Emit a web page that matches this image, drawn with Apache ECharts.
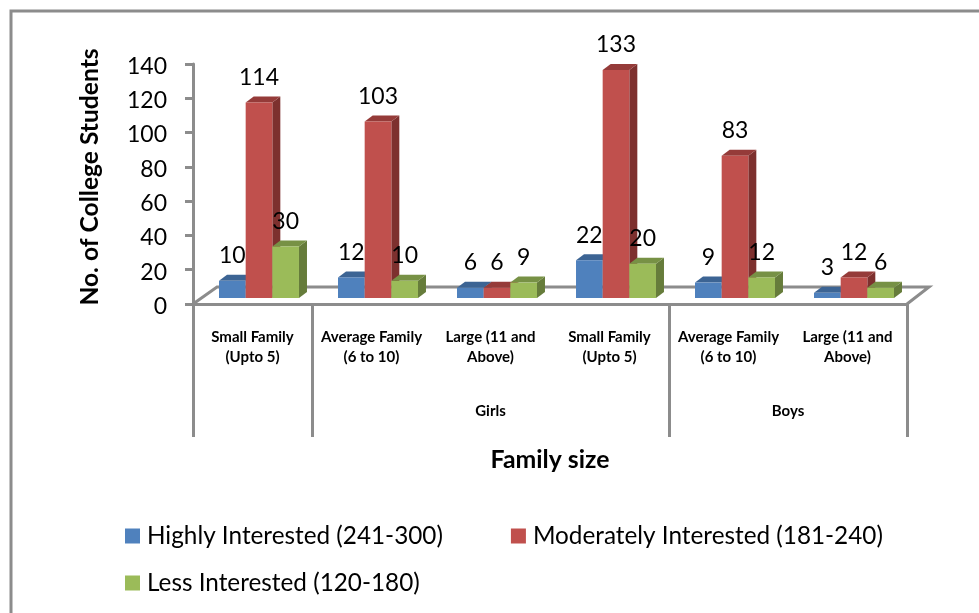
<!DOCTYPE html>
<html><head><meta charset="utf-8">
<style>html,body{margin:0;padding:0;background:#fff}#c{width:979px;height:613px}</style>
<script src="https://cdn.jsdelivr.net/npm/echarts@6/dist/echarts.min.js"></script>
</head><body><div id="c"></div>
<script>
const categories = ['Small Family\n(Upto 5)','Average Family\n(6 to 10)','Large (11 and\nAbove)','Small Family\n(Upto 5)','Average Family\n(6 to 10)','Large (11 and\nAbove)'];
const highly = [10,12,6,22,9,3];
const moderately = [114,103,6,133,83,12];
const less = [30,10,9,20,12,6];
const yTicks = [0,20,40,60,80,100,120,140];
const groupLabels = {2.5:'Girls',5:'Boys'};
const groupTicks = [0,1,4,6];
const seriesNames = ['Highly Interested (241-300)','Moderately Interested (181-240)','Less Interested (120-180)'];
const FONT = 'Lato';
const GRAY = '#8c8c8c';
const INK = '#000';
const palette = [
 {front:'#4F81BD',top:'#3C6494',side:'#335580'},
 {front:'#C0504D',top:'#953B39',side:'#7D302E'},
 {front:'#9BBB59',top:'#779145',side:'#667C3B'}
];
const DX=8, DY=-6, BASE_Y=-6, SHIFT=6.5, WIDTH=0.224;
function barSeries(name,values,idx){
  const c=palette[idx];
  return {
    name,type:'custom',coordinateSystem:'cartesian2d',xAxisIndex:0,yAxisIndex:0,
    itemStyle:{color:c.front},
    encode:{x:0,y:1},
    data:values.map((v,i)=>[i,v]),z:3,
    renderItem(params,api){
      const p=api.coord([api.value(0),api.value(1)]);
      const z=api.coord([api.value(0),0]);
      const w=api.size([1,0])[0]*WIDTH;
      const x0=p[0]+SHIFT+(idx-1.5)*w, x1=x0+w;
      const yb=z[1]+BASE_Y, yt=p[1]+BASE_Y;
      return {type:'group',children:[
        {type:'polygon',shape:{points:[[x1,yt],[x1+DX,yt+DY],[x1+DX,yb+DY],[x1,yb]]},style:{fill:c.side}},
        {type:'polygon',shape:{points:[[x0,yt],[x0+DX,yt+DY],[x1+DX,yt+DY],[x1,yt]]},style:{fill:c.top}},
        {type:'rect',shape:{x:x0,y:yt,width:w,height:yb-yt},style:{fill:c.front}},
        {type:'text',z2:100,style:{text:String(api.value(1)),x:(x0+x1)/2,y:yt-25,align:'center',verticalAlign:'middle',font:'23px '+FONT,fill:INK}}
      ]};
    }
  };
}
const floor={
  type:'custom',coordinateSystem:'cartesian2d',xAxisIndex:0,yAxisIndex:0,z:1,silent:true,legendHoverLink:false,
  data:[[0,0]],
  renderItem(params,api){
    const a=api.coord([0,0]);
    const w=api.size([1,0])[0];
    const l=a[0]-w/2, r=l+w*6, y=a[1];
    return {type:'polyline',shape:{points:[[l,y],[l+24,y-17],[r+22,y-17],[r,y]]},style:{fill:null,stroke:GRAY,lineWidth:3}};
  }
};
const chart=echarts.init(document.getElementById('c'),null,{renderer:'canvas'});
chart.setOption({
  animation:false,
  backgroundColor:'#fff',
  textStyle:{fontFamily:FONT},
  graphic:[{type:'rect',shape:{x:11,y:11,width:1000,height:700},style:{fill:null,stroke:GRAY,lineWidth:3},silent:true}],
  grid:{left:193,right:72,top:64,bottom:309,containLabel:false},
  legend:[
    {left:120,top:519,data:seriesNames.slice(0,2),itemWidth:15,itemHeight:15,itemGap:68,icon:'rect',textStyle:{fontFamily:FONT,fontSize:24.3,color:INK,padding:[0,0,0,2]},selectedMode:false},
    {left:120,top:566,data:seriesNames.slice(2),itemWidth:15,itemHeight:15,icon:'rect',textStyle:{fontFamily:FONT,fontSize:24.3,color:INK,padding:[0,0,0,2]},selectedMode:false}
  ],
  xAxis:[
    {type:'category',data:categories,position:'bottom',
     axisLine:{lineStyle:{color:GRAY,width:3}},
     axisTick:{alignWithLabel:false,length:76,lineStyle:{color:GRAY,width:3}},
     axisLabel:{interval:0,margin:23,fontFamily:FONT,fontWeight:'bold',fontSize:15,lineHeight:20,color:INK}},
    {type:'value',min:0,max:6,position:'bottom',splitLine:{show:false},
     axisLine:{show:false},
     axisTick:{show:true,customValues:groupTicks,length:133,lineStyle:{color:GRAY,width:3}},
     axisLabel:{customValues:[2.5,5],margin:100,fontFamily:FONT,fontWeight:'bold',fontSize:15,color:INK,formatter:v=>groupLabels[v]||''},
     name:'Family size',nameLocation:'middle',nameGap:144,nameTextStyle:{fontFamily:FONT,fontWeight:'bold',fontSize:24.8,color:INK}}
  ],
  yAxis:[{type:'value',min:0,max:140,interval:20,
    axisLine:{show:true,lineStyle:{color:GRAY,width:3}},
    axisTick:{show:true,length:8,lineStyle:{color:GRAY,width:3}},
    axisLabel:{margin:26,fontFamily:FONT,fontSize:23,color:INK,customValues:yTicks,verticalAlign:'top',lineHeight:5},
    splitLine:{show:false},
    name:'No. of College Students',nameLocation:'middle',nameGap:90,nameRotate:90,
    nameTextStyle:{fontFamily:FONT,fontWeight:'bold',fontSize:24.6,color:INK,padding:[0,0,0,14]}}],
  series:[floor,barSeries(seriesNames[0],highly,0),barSeries(seriesNames[1],moderately,1),barSeries(seriesNames[2],less,2)]
});
</script></body></html>
